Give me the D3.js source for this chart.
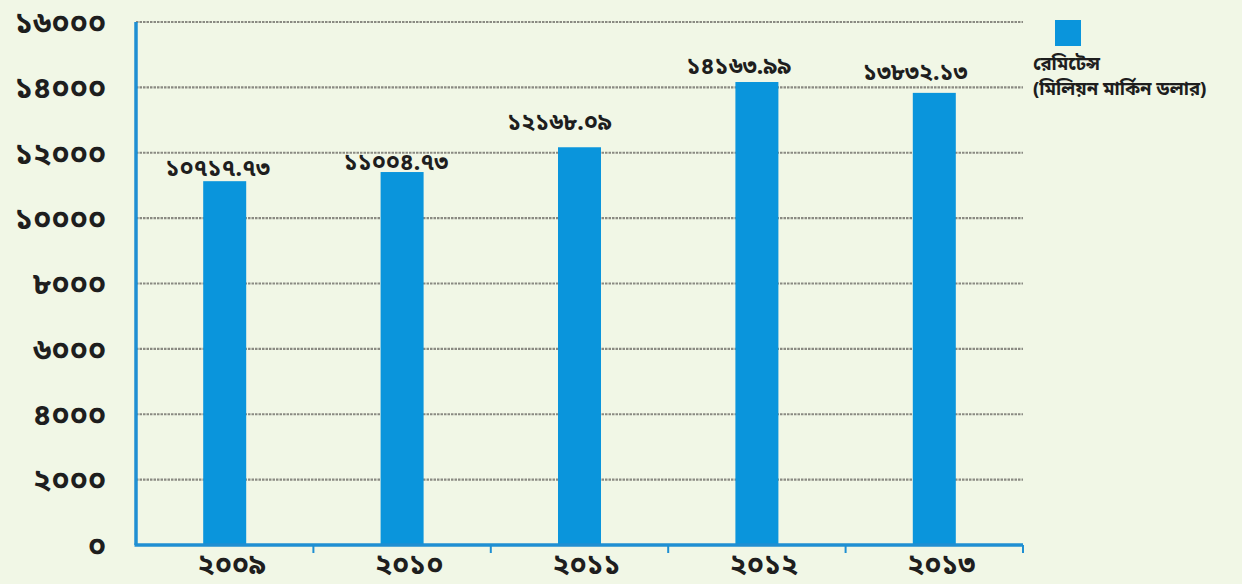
<!DOCTYPE html>
<html>
<head>
<meta charset="utf-8">
<script src="https://cdn.jsdelivr.net/npm/d3@7"></script>
<style>
  html, body { margin: 0; padding: 0; background: #f1f7e6; }
  svg { display: block; }
  text { font-family: "Noto Sans Bengali", "Noto Sans", "Lohit Bengali", "FreeSans", sans-serif; font-weight: 700; fill: #1e1e1e; }
</style>
</head>
<body>
<svg id="chart" width="1242" height="584"></svg>
<script>
// ---- data ----
const years = ["২০০৯", "২০১০", "২০১১", "২০১২", "২০১৩"];
const barValues = [11130, 11410, 12168, 14164, 13832];
const valueLabels = ["১০৭১৭.৭৩", "১১০০৪.৭৩", "১২১৬৮.০৯", "১৪১৬৩.৯৯", "১৩৮৩২.১৩"];
const yTicks = [0, 2000, 4000, 6000, 8000, 10000, 12000, 14000, 16000];
const legendLines = ["রেমিটেন্স", "(মিলিয়ন মার্কিন ডলার)"];

const bnDigits = "০১২৩৪৫৬৭৮৯";
const toBn = s => String(s).replace(/[0-9]/g, d => bnDigits[+d]);

// ---- layout ----
const svg = d3.select("#chart");
const mLeft = 136, mRight = 1023, mTop = 22, mBottom = 545;
const barColor = "#0a95dc";
const axisColor = "#1f8fd2";

const x = d3.scaleBand().domain(years).range([mLeft, mRight]).padding(0);
const y = d3.scaleLinear().domain([0, 16000]).range([mBottom, mTop]);
const barW = 43;

// gridlines
svg.append("g").selectAll("line").data(yTicks.filter(t => t > 0)).join("line")
  .attr("x1", mLeft).attr("x2", mRight)
  .attr("y1", d => y(d)).attr("y2", d => y(d))
  .attr("stroke", "#8a8a82").attr("stroke-width", 2.2)
  .attr("stroke-dasharray", "2.5,1");

// y tick labels
svg.append("g").selectAll("text").data(yTicks).join("text")
  .attr("x", 106).attr("y", d => y(d))
  .attr("dy", "0.36em")
  .attr("text-anchor", "end")
  .attr("font-size", 30)
  .text(d => toBn(d));

// bars
svg.append("g").selectAll("rect").data(barValues).join("rect")
  .attr("x", (d, i) => x(years[i]) + x.bandwidth() / 2 - barW / 2)
  .attr("width", barW)
  .attr("y", d => y(d))
  .attr("height", d => y(0) - y(d))
  .attr("fill", barColor);

// value labels
const labelDx = [-7, -6, -20, -18, -19];
const labelDy = [-5, -2, -17, -8, -13];
svg.append("g").selectAll("text").data(valueLabels).join("text")
  .attr("x", (d, i) => x(years[i]) + x.bandwidth() / 2 + labelDx[i])
  .attr("y", (d, i) => y(barValues[i]) + labelDy[i])
  .attr("text-anchor", "middle")
  .attr("font-size", 23)
  .text(d => d);

// axes lines
svg.append("line").attr("x1", mLeft).attr("x2", mLeft).attr("y1", mTop).attr("y2", mBottom)
  .attr("stroke", axisColor).attr("stroke-width", 3.5);
svg.append("line").attr("x1", mLeft - 1.5).attr("x2", mRight).attr("y1", mBottom).attr("y2", mBottom)
  .attr("stroke", axisColor).attr("stroke-width", 3.5);

// x ticks at band boundaries
svg.append("g").selectAll("line").data(years).join("line")
  .attr("x1", d => x(d) + x.bandwidth()).attr("x2", d => x(d) + x.bandwidth())
  .attr("y1", mBottom).attr("y2", mBottom + 8)
  .attr("stroke", axisColor).attr("stroke-width", 2);

// x labels
svg.append("g").selectAll("text").data(years).join("text")
  .attr("x", d => x(d) + x.bandwidth() / 2 + 7)
  .attr("y", 574)
  .attr("text-anchor", "middle")
  .attr("font-size", 28)
  .text(d => d);

// legend
svg.append("rect").attr("x", 1055).attr("y", 20).attr("width", 26).attr("height", 26).attr("fill", barColor);
svg.append("g").selectAll("text").data(legendLines).join("text")
  .attr("x", 1033).attr("y", (d, i) => 70 + i * 25)
  .attr("font-size", 18.5)
  .text(d => d);
</script>
</body>
</html>
